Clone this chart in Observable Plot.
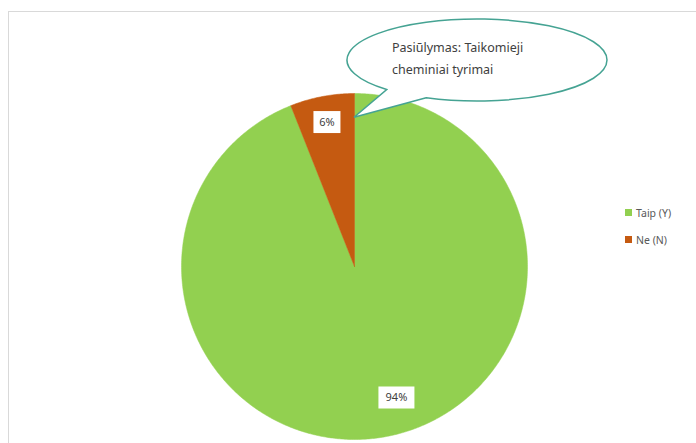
<!DOCTYPE html>
<html>
<head>
<meta charset="utf-8">
<script src="https://cdn.jsdelivr.net/npm/d3@7"></script>
<script src="https://cdn.jsdelivr.net/npm/@observablehq/plot@0.6"></script>
<style>
  html, body { margin: 0; padding: 0; background: #fff; overflow: hidden; }
  #wrap { position: relative; width: 696px; height: 443px; }
  #frame { position: absolute; left: 8px; top: 11px; width: 720px; height: 470px;
           border: 1.5px solid #d9d9d9; box-sizing: border-box; }
  #chart { position: absolute; left: 0; top: 0; }
  #legend { position: absolute; left: 625px; top: 206px;
            font: 10.5px "Noto Sans", sans-serif; color: #595959; }
  #legend .item { display: flex; align-items: center; height: 13px; margin-bottom: 14px; }
  #legend .sw { width: 7px; height: 7px; margin-right: 4px; }
</style>
</head>
<body>
<div id="wrap">
  <div id="frame"></div>
  <div id="chart"></div>
  <div id="legend"></div>
</div>
<script>
// Survey answers
const categories = ["Taip (Y)", "Ne (N)"];
const shares = [94, 6];
const colors = ["#92d050", "#c55a11"];
const calloutLines = ["Pasiūlymas: Taikomieji", "cheminiai tyrimai"];

// Slices run clockwise from 12 o'clock
const total = d3.sum(shares);
let acc = 0;
const slices = categories.map((category, i) => {
  const a0 = acc / total * 2 * Math.PI;
  acc += shares[i];
  const a1 = acc / total * 2 * Math.PI;
  return {category, value: shares[i], a0, a1, mid: (a0 + a1) / 2};
});
const polar = (a, r) => [r * Math.sin(a), r * Math.cos(a)];

// Closed outline of every wedge, on the unit circle
const outline = slices.flatMap(s => {
  const n = Math.max(2, Math.ceil((s.a1 - s.a0) / 0.01));
  const pts = [{category: s.category, p: [0, 0]}];
  for (let k = 0; k <= n; ++k) {
    pts.push({category: s.category, p: polar(s.a0 + (s.a1 - s.a0) * k / n, 1)});
  }
  pts.push({category: s.category, p: [0, 0]});
  return pts;
});

const labelAt = (s, r) => ({...s, p: polar(s.mid, r), text: `${s.value}%`});
const bigLabel = [labelAt(slices[0], 0.8)];
const smallLabel = [labelAt(slices[1], 0.85)];

// Rectangular backing for the percentage labels (width taken from r)
const labelBox = {
  draw(ctx, size) {
    const w = Math.sqrt(size / Math.PI), h = 22;
    ctx.rect(-w / 2, -h / 2, w, h);
  }
};

// Speech-bubble note pointing at the top of the pie
function callout(index, scales) {
  const tip = polar(0, 0.86);
  const tx = scales.x(tip[0]), ty = scales.y(tip[1]);
  const cx = 477, cy = 60, rx = 130, ry = 41;
  const pt = t => [cx + rx * Math.cos(t), cy + ry * Math.sin(t)];
  const p1 = pt(134 * Math.PI / 180), p2 = pt(113 * Math.PI / 180);
  const g = d3.create("svg:g");
  g.append("path")
    .attr("d", `M${p2}L${tx},${ty}L${p1}A${rx},${ry} 0 1 1 ${p2}Z`)
    .attr("fill", "#fff")
    .attr("stroke", "#45a393")
    .attr("stroke-width", 1.5);
  g.append("text")
    .attr("text-anchor", "start")
    .attr("font-family", "Noto Sans, sans-serif")
    .attr("font-size", 12.5)
    .attr("fill", "#404040")
    .selectAll("tspan")
    .data(calloutLines)
    .join("tspan")
    .attr("x", 392)
    .attr("y", (d, i) => 52 + i * 22)
    .text(d => d);
  return g.node();
}

const cx = 354, cy = 266, R = 173, W = 696, H = 443;

const chart = Plot.plot({
  width: W,
  height: H,
  margin: 0,
  x: {domain: [-cx / R, (W - cx) / R], axis: null},
  y: {domain: [-(H - cy) / R, cy / R], axis: null},
  color: {domain: categories, range: colors},
  marks: [
    Plot.line(outline, {
      x: d => d.p[0], y: d => d.p[1], z: "category",
      fill: "category", stroke: "category", strokeWidth: 0.5
    }),
    callout,
    Plot.dot(smallLabel, {
      x: d => d.p[0], y: d => d.p[1], r: 27, symbol: labelBox,
      fill: "#fff", stroke: null
    }),
    Plot.text(smallLabel, {
      x: d => d.p[0], y: d => d.p[1], text: "text",
      fill: "#404040", fontSize: 11, fontFamily: "Noto Sans, sans-serif"
    }),
    Plot.dot(bigLabel, {
      x: d => d.p[0], y: d => d.p[1], r: 36, symbol: labelBox,
      fill: "#fff", stroke: null, dx: 16, dy: -5
    }),
    Plot.text(bigLabel, {
      x: d => d.p[0], y: d => d.p[1], text: "text", dx: 16, dy: -5,
      fill: "#404040", fontSize: 11, fontFamily: "Noto Sans, sans-serif"
    })
  ]
});
document.getElementById("chart").appendChild(chart);

// Legend
const legend = d3.select("#legend");
const items = legend.selectAll(".item").data(categories).join("div").attr("class", "item");
items.append("div").attr("class", "sw").style("background", (d, i) => colors[i]);
items.append("span").text(d => d);
</script>
</body>
</html>
